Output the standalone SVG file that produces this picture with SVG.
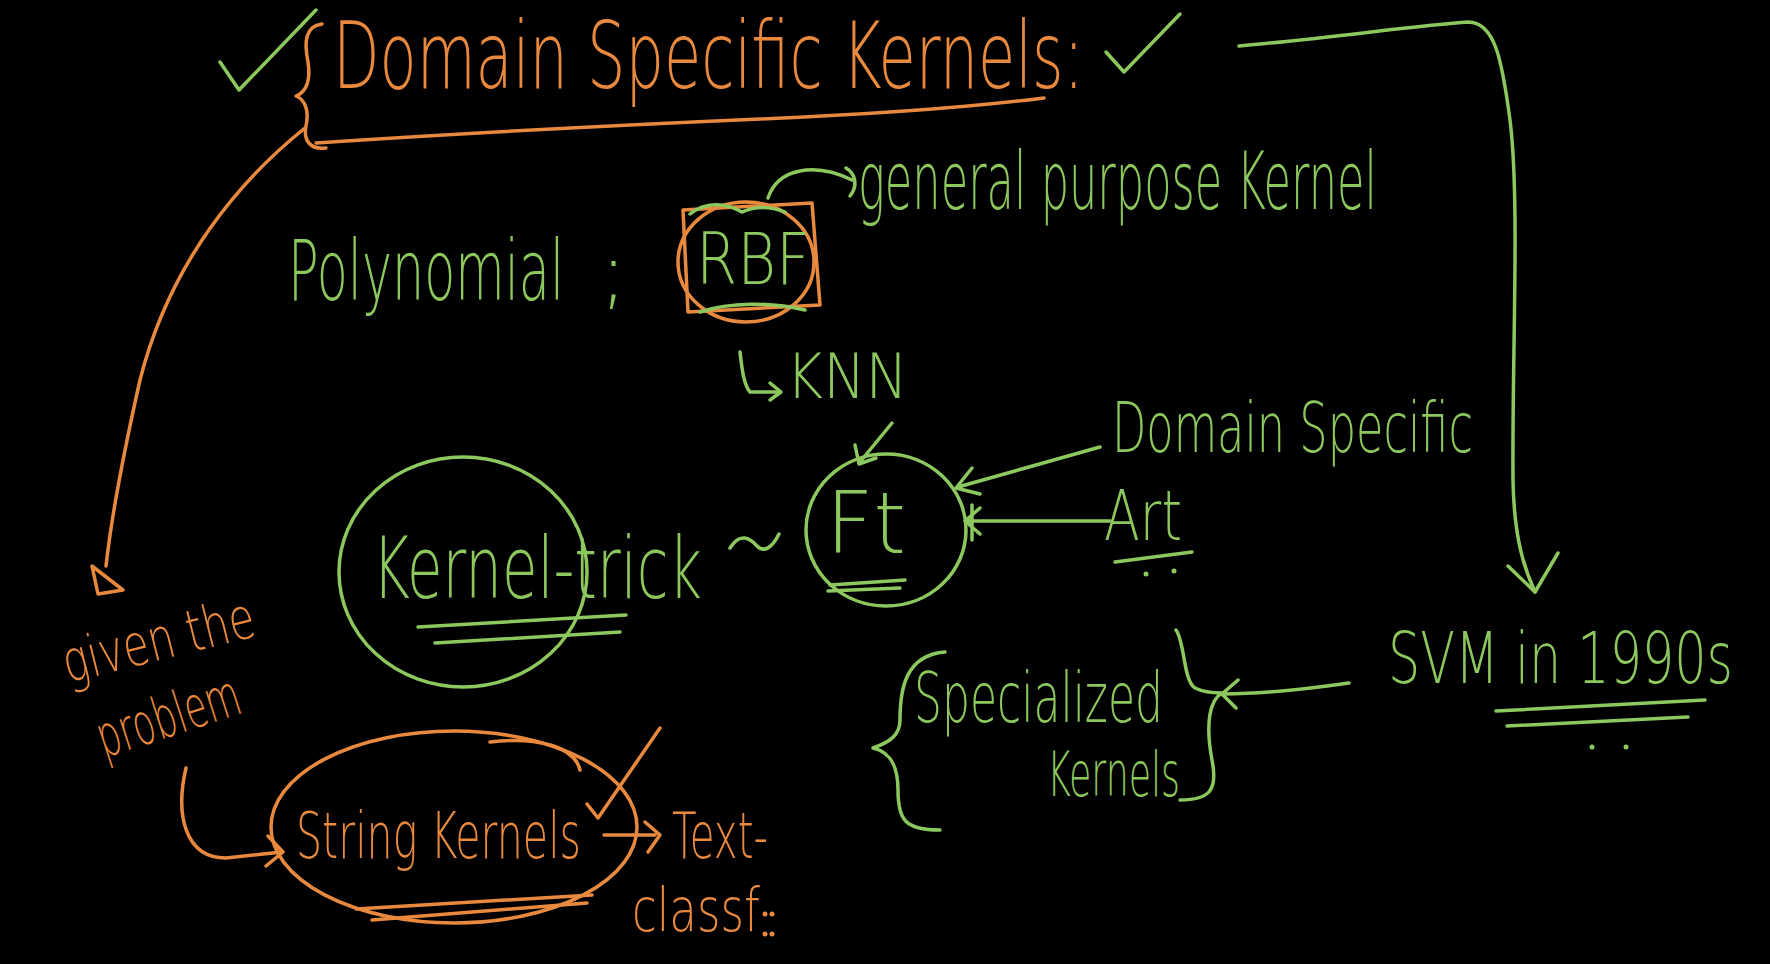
<svg xmlns="http://www.w3.org/2000/svg" width="1770" height="964" viewBox="0 0 1770 964">
<style>
.bg{fill:#000}
.tg{fill:#8cc85e;font-family:"DejaVu Sans","Liberation Sans",sans-serif;font-weight:200}
.to{fill:#e8893e;font-family:"DejaVu Sans","Liberation Sans",sans-serif;font-weight:200}
.sg{fill:none;stroke:#8cc85e;stroke-width:3.5;stroke-linecap:round;stroke-linejoin:round}
.so{fill:none;stroke:#e8893e;stroke-width:3.5;stroke-linecap:round;stroke-linejoin:round}
.dg{fill:#8cc85e}
.do{fill:#e8893e}
</style>
<rect class="bg" x="0" y="0" width="1770" height="964"/>

<g id="title">
<path class="so" d="M322,24 C305,26 304,42 308,62 C311,82 306,92 296,96 C306,100 309,112 306,126 C303,140 310,150 326,148"/>
<text class="to" x="333" y="88" font-size="92" textLength="751" lengthAdjust="spacingAndGlyphs">Domain Specific Kernels:</text>
<path class="so" d="M316,143 C450,134 600,126 760,119 C880,114 980,106 1044,98"/>
<path class="sg" d="M220,62 L239,90 L316,10"/>
<path class="sg" d="M1106,52 L1124,72 L1180,14"/>
</g>

<g id="general-purpose">
<text class="tg" x="858" y="209" font-size="80" textLength="519" lengthAdjust="spacingAndGlyphs">general purpose Kernel</text>
</g>

<g id="polynomial">
<text class="tg" x="288" y="300" font-size="84" textLength="276" lengthAdjust="spacingAndGlyphs">Polynomial</text>
<text class="tg" x="600" y="300" font-size="80">;</text>
</g>

<g id="rbf">
<path class="so" d="M683,210 L812,203 L820,305 L688,312 Z"/>
<ellipse class="so" cx="746" cy="262" rx="68" ry="60"/>
<path class="sg" d="M690,214 C705,202 725,202 742,212 C755,206 770,206 785,212"/>
<path class="sg" d="M700,312 C730,302 770,302 805,310"/>
<text class="tg" x="696" y="284" font-size="72" textLength="114" lengthAdjust="spacingAndGlyphs">RBF</text>
</g>

<g id="knn">
<text class="tg" x="786" y="398" font-size="62" textLength="122" lengthAdjust="spacingAndGlyphs">KNN</text>
</g>

<g id="ft">
<ellipse class="sg" cx="886" cy="530" rx="80" ry="76"/>
<text class="tg" x="826" y="553" font-size="86" textLength="80" lengthAdjust="spacingAndGlyphs">Ft</text>
<path class="sg" d="M830,585 L905,580 M828,591 L900,588"/>
</g>

<g id="kernel-trick">
<ellipse class="sg" cx="463" cy="572" rx="124" ry="115"/>
<text class="tg" x="372" y="598" font-size="86" textLength="330" lengthAdjust="spacingAndGlyphs">Kernel-trick</text>
<path class="sg" d="M418,627 L626,615 M435,643 L620,632"/>
<path class="sg" d="M730,548 C740,532 750,538 757,546 C764,553 772,548 779,534"/>
</g>

<g id="domain-specific">
<text class="tg" x="1112" y="452" font-size="70" textLength="361" lengthAdjust="spacingAndGlyphs">Domain Specific</text>
</g>

<g id="art">
<text class="tg" x="1104" y="540" font-size="70" textLength="78" lengthAdjust="spacingAndGlyphs">Art</text>
<path class="sg" d="M1115,562 L1192,552"/>
<circle class="dg" cx="1146" cy="574" r="2.5"/>
<circle class="dg" cx="1174" cy="571" r="2.5"/>
</g>

<g id="given-problem">
<text class="to" x="68" y="683" font-size="58" textLength="196" lengthAdjust="spacingAndGlyphs" transform="rotate(-14 68 683)">given the</text>
<text class="to" x="104" y="758" font-size="58" textLength="148" lengthAdjust="spacingAndGlyphs" transform="rotate(-18 104 758)">problem</text>
</g>

<g id="string-kernels">
<ellipse class="so" cx="454" cy="827" rx="183" ry="96"/>
<path class="so" d="M490,742 C540,736 575,748 580,770"/>
<text class="to" x="296" y="858" font-size="64" textLength="285" lengthAdjust="spacingAndGlyphs">String Kernels</text>
<path class="so" d="M356,909 L592,895 M372,920 L587,903"/>
<path class="so" d="M587,804 L598,818 L660,728"/>
</g>

<g id="text-classf">
<text class="to" x="672" y="858" font-size="64" textLength="96" lengthAdjust="spacingAndGlyphs">Text-</text>
<text class="to" x="632" y="931" font-size="60" textLength="128" lengthAdjust="spacingAndGlyphs">classf</text>
<circle class="do" cx="765" cy="914" r="2.5"/><circle class="do" cx="772" cy="914" r="2.5"/>
<circle class="do" cx="765" cy="934" r="2.5"/><circle class="do" cx="772" cy="934" r="2.5"/>
</g>

<g id="specialized-kernels">
<path class="sg" d="M945,652 C905,655 900,690 900,720 C900,735 890,742 873,748 C890,752 898,765 898,790 C898,820 905,830 940,830"/>
<text class="tg" x="914" y="722" font-size="70" textLength="249" lengthAdjust="spacingAndGlyphs">Specialized</text>
<text class="tg" x="1047" y="796" font-size="62" textLength="133" lengthAdjust="spacingAndGlyphs">Kernels</text>
<path class="sg" d="M1176,630 C1185,642 1183,680 1195,688 C1205,693 1215,693 1222,693 C1210,700 1205,722 1212,760 C1218,790 1210,800 1180,800"/>
</g>

<g id="svm">
<text class="tg" x="1388" y="683" font-size="72" textLength="345" lengthAdjust="spacingAndGlyphs">SVM in 1990s</text>
<path class="sg" d="M1496,711 L1705,700 M1507,726 L1688,717"/>
<circle class="dg" cx="1592" cy="747" r="2.5"/>
<circle class="dg" cx="1626" cy="747" r="2.5"/>
</g>

<g id="connectors">
<path class="so" d="M305,128 C240,180 170,262 140,380 C122,460 110,530 106,566"/>
<path class="so" d="M92,566 L98,594 L123,590 Z"/>
<path class="sg" d="M1239,46 C1330,38 1420,25 1468,22 C1495,22 1502,60 1510,120 C1520,200 1512,350 1513,480 C1514,540 1525,570 1535,592"/>
<path class="sg" d="M1508,566 L1535,592 L1558,553"/>
<path class="sg" d="M768,198 C778,168 815,162 852,180"/>
<path class="sg" d="M846,168 C856,174 858,186 850,196"/>
<path class="sg" d="M740,352 C742,370 744,385 750,392 L780,392"/>
<path class="sg" d="M770,383 L781,392 L770,400"/>
<path class="sg" d="M892,423 L860,462 M855,445 L859,464 L876,458"/>
<path class="sg" d="M1100,447 L958,487 M972,468 L956,488 L980,494"/>
<path class="sg" d="M1110,521 L965,521 M980,508 L965,521 L980,534 M972,505 L972,540"/>
<path class="so" d="M186,768 C175,815 185,858 226,858 L282,852 M268,836 L283,852 L266,866"/>
<path class="so" d="M604,835 L655,835 M645,822 L660,835 L648,852"/>
<path class="sg" d="M1349,683 C1300,690 1260,694 1224,694 M1238,680 L1222,694 L1236,708"/>
</g>
</svg>
